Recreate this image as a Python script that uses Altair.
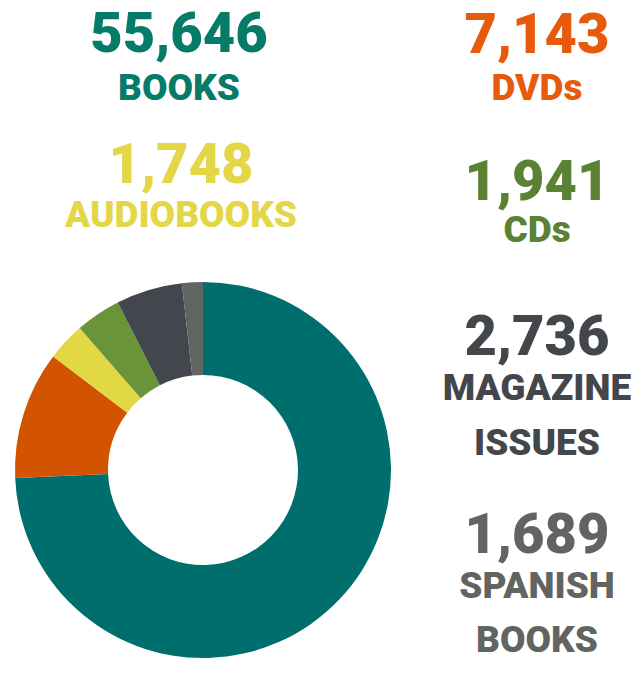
import altair as alt
import pandas as pd

# ---- data ----
categories = ["BOOKS", "DVDs", "AUDIOBOOKS", "CDs", "MAGAZINE ISSUES", "SPANISH BOOKS"]
counts = [55646, 7143, 1748, 1941, 2736, 1689]
label_lines = [["BOOKS"], ["DVDs"], ["AUDIOBOOKS"], ["CDs"], ["MAGAZINE", "ISSUES"], ["SPANISH", "BOOKS"]]
# slice shares (%) as drawn in the donut
pie_share = [74.4, 11.0, 3.3, 3.9, 5.7, 1.8]

# ---- styles ----
pie_colors = ["#006E6C", "#D35400", "#E2D844", "#6A9438", "#43474D", "#626462"]
text_colors = ["#077B6A", "#E85A0B", "#E3D748", "#5B8234", "#43474C", "#626462"]

# ---- layout (chart pixel coordinates) ----
col_x = [171, 529, 173, 529, 529, 529]
num_y = [44, 45, 175, 192, 347, 545]
lab_y = [[92], [92], [219], [234], [392, 447], [590, 644]]
NUM_SIZE = 56
LAB_SIZE = 37
CX, CY = 195, 462
R_OUT, R_IN = 188, 95

pie_df = pd.DataFrame({
    "category": categories,
    "share": pie_share,
    "order": list(range(len(categories))),
})

rows = []
for i, cat in enumerate(categories):
    rows.append({"t": f"{counts[i]:,}", "px": col_x[i], "py": num_y[i],
                 "color": text_colors[i], "fs": NUM_SIZE})
    for line, y in zip(label_lines[i], lab_y[i]):
        rows.append({"t": line, "px": col_x[i], "py": y,
                     "color": text_colors[i], "fs": LAB_SIZE})
text_df = pd.DataFrame(rows)

pie = alt.Chart(pie_df).mark_arc(outerRadius=R_OUT, innerRadius=R_IN).encode(
    theta=alt.Theta("share:Q", stack=True),
    color=alt.Color("category:N", scale=alt.Scale(domain=categories, range=pie_colors), legend=None),
    order=alt.Order("order:Q"),
    x=alt.value(CX),
    y=alt.value(CY),
)

texts = alt.Chart(text_df).mark_text(
    font="Roboto", fontWeight=900, align="center", baseline="alphabetic"
).encode(
    x=alt.X("px:Q", scale=None),
    y=alt.Y("py:Q", scale=None),
    text="t:N",
    color=alt.Color("color:N", scale=None),
    size=alt.Size("fs:Q", scale=None),
)

chart = alt.layer(pie, texts).properties(
    width=625, height=665, padding=0,
    autosize=alt.AutoSizeParams(type="none"),
).configure_view(stroke=None)

chart.save("out.html", embed_options={"renderer": "svg", "actions": False})
